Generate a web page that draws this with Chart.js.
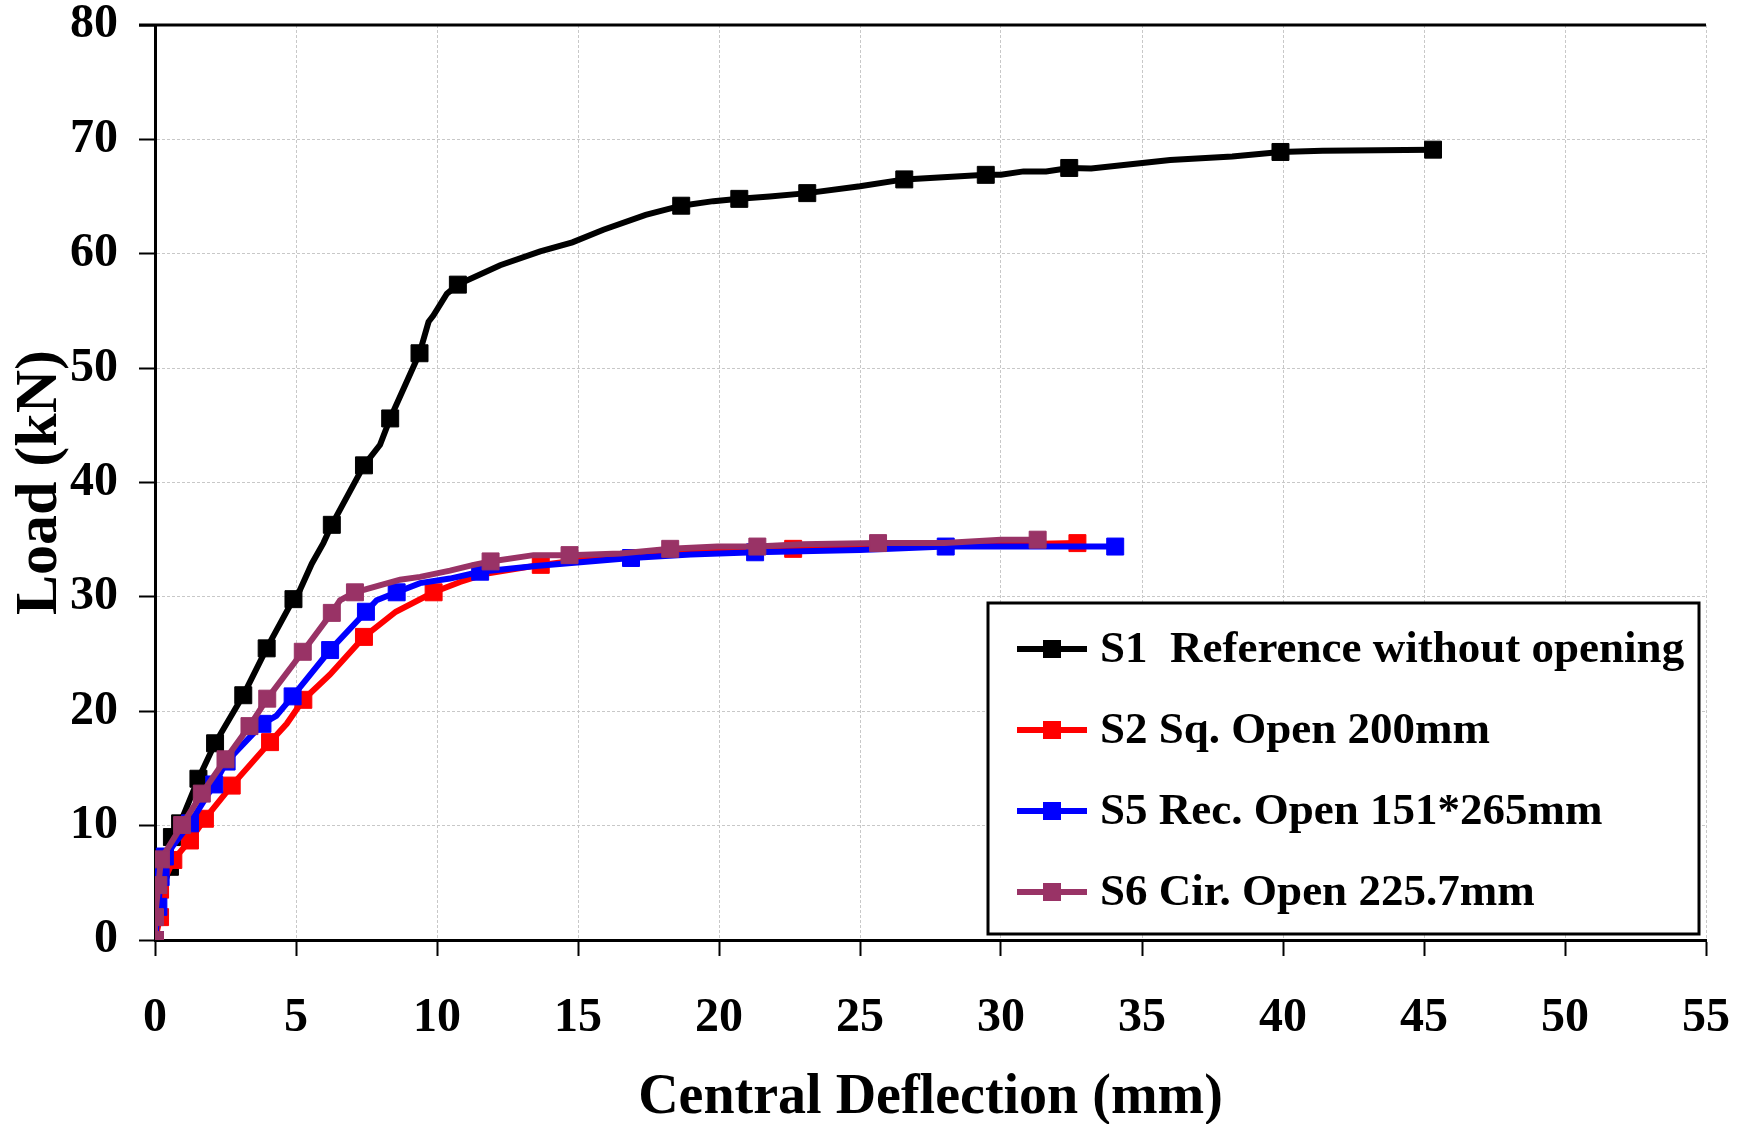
<!DOCTYPE html>
<html>
<head>
<meta charset="utf-8">
<script src="https://cdn.jsdelivr.net/npm/chart.js@4.4.1/dist/chart.umd.min.js"></script>
<style>
  html, body { margin: 0; padding: 0; background: #ffffff; }
  #wrap { position: relative; width: 1748px; height: 1124px; }
  canvas { display: block; }
</style>
</head>
<body>
<div id="wrap"><canvas id="c" width="1748" height="1124"></canvas></div>
<script>
// ---- data ----
const seriesLabels = ["S1  Reference without opening", "S2 Sq. Open 200mm", "S5 Rec. Open 151*265mm", "S6 Cir. Open 225.7mm"];

const s1X = [0, 0.15, 0.35, 0.53, 0.6, 0.89, 1.54, 2.13, 3.13, 3.96, 4.91, 5.14, 5.56, 5.97, 6.27, 7.41, 7.98, 8.34, 9.38, 9.70, 9.87, 10.35, 10.74, 12.24, 13.66, 14.8, 15.9, 17.4, 18.66, 19.8, 20.72, 21.8, 23.13, 25.0, 26.57, 28.1, 29.46, 30.0, 30.8, 31.6, 32.42, 33.2, 36.0, 38.2, 39.91, 41.4, 45.32];
const s1Y = [0, 3.0, 5.0, 6.4, 9.0, 10.2, 14.1, 17.2, 21.4, 25.5, 29.8, 30.6, 32.9, 34.7, 36.3, 41.5, 43.3, 45.6, 51.3, 54.05, 54.6, 56.5, 57.3, 59.0, 60.2, 61.0, 62.1, 63.4, 64.2, 64.6, 64.8, 65.0, 65.3, 65.9, 66.5, 66.7, 66.9, 66.9, 67.2, 67.2, 67.5, 67.45, 68.2, 68.5, 68.9, 69.0, 69.1];
const s1Marks = [0, 3, 4, 5, 6, 7, 8, 9, 10, 14, 15, 17, 18, 22, 28, 30, 32, 34, 36, 40, 44, 46];

const s2X = [0, 0.18, 0.18, 0.65, 1.24, 1.77, 2.72, 3.4, 4.08, 4.67, 5.26, 6.2, 7.41, 8.54, 9.88, 10.82, 11.77, 13.68, 16.0, 19.0, 21.0, 22.63, 25.0, 28.0, 30.5, 32.71];
const s2Y = [0, 2.0, 4.4, 7.0, 8.7, 10.6, 13.5, 15.4, 17.3, 18.9, 21.0, 23.2, 26.5, 28.7, 30.4, 31.3, 32.05, 32.8, 33.5, 33.9, 34.1, 34.2, 34.3, 34.5, 34.6, 34.7];
const s2Marks = [0, 1, 2, 3, 4, 5, 6, 8, 10, 12, 14, 17, 21, 25];

const s5X = [0, 0.12, 0.2, 0.35, 1.24, 2.1, 2.54, 3.81, 4.3, 4.88, 6.21, 7.48, 7.86, 8.57, 9.4, 10.46, 11.53, 13.5, 16.88, 19.0, 21.28, 25.0, 28.04, 31.0, 34.05];
const s5Y = [0, 2.9, 5.5, 7.3, 10.2, 13.6, 15.6, 18.9, 19.6, 21.3, 25.35, 28.7, 29.7, 30.4, 31.2, 31.6, 32.2, 32.7, 33.4, 33.7, 33.9, 34.1, 34.4, 34.4, 34.4];
const s5Marks = [0, 1, 2, 3, 4, 5, 6, 7, 9, 10, 11, 13, 16, 18, 20, 22, 24];

const s6X = [0, 0, 0.12, 0.21, 0.96, 1.66, 2.5, 3.35, 3.98, 5.24, 6.27, 6.56, 7.09, 8.69, 9.4, 10.46, 11.3, 11.9, 13.42, 14.7, 16.5, 18.27, 19.94, 21.36, 22.94, 25.64, 28.0, 30.0, 31.3];
const s6Y = [0, 2.0, 4.8, 7.05, 10.05, 12.8, 15.8, 18.7, 21.1, 25.2, 28.6, 29.7, 30.4, 31.5, 31.75, 32.3, 32.8, 33.1, 33.65, 33.65, 33.8, 34.2, 34.4, 34.4, 34.6, 34.7, 34.7, 35.0, 35.0];
const s6Marks = [0, 1, 2, 3, 4, 5, 6, 7, 8, 9, 10, 12, 17, 19, 21, 23, 25, 28];

const xTitle = "Central Deflection (mm)";
const yTitle = "Load (kN)";

// ---- build ----
function pts(xs, ys) { return xs.map((x, i) => ({ x: x, y: ys[i] })); }
const colors = ["#000000", "#FF0000", "#0000FF", "#993366"];
const allX = [s1X, s2X, s5X, s6X];
const allY = [s1Y, s2Y, s5Y, s6Y];
const allMarks = [s1Marks, s2Marks, s5Marks, s6Marks];
const FONT = "'Liberation Serif', 'Times New Roman', serif";

const datasets = seriesLabels.map((lab, k) => ({
  label: lab,
  data: pts(allX[k], allY[k]),
  showLine: true,
  borderColor: colors[k],
  backgroundColor: colors[k],
  borderWidth: 6,
  tension: 0,
  pointStyle: 'rect',
  pointRadius: (ctx) => allMarks[k].includes(ctx.dataIndex) ? 12 : 0,
  pointHoverRadius: (ctx) => allMarks[k].includes(ctx.dataIndex) ? 12 : 0,
  pointBorderWidth: 1,
  pointBorderColor: colors[k],
  pointBackgroundColor: colors[k],
  order: 4 - k
}));

const topLinePlugin = {
  id: 'topLine',
  beforeDatasetsDraw(chart) {
    const { ctx, chartArea, scales } = chart;
    const y = scales.y.getPixelForValue(80);
    ctx.save();
    ctx.strokeStyle = '#000';
    ctx.lineWidth = 3;
    ctx.beginPath();
    ctx.moveTo(chartArea.left - 16, y);
    ctx.lineTo(chartArea.right, y);
    ctx.stroke();
    ctx.restore();
  }
};

const legendPlugin = {
  id: 'boxLegend',
  afterDatasetsDraw(chart) {
    const { ctx, chartArea } = chart;
    const bx = chartArea.right - 718, by = chartArea.bottom - 337, bw = 711, bh = 331;
    ctx.save();
    ctx.fillStyle = '#fff';
    ctx.fillRect(bx, by, bw, bh);
    ctx.strokeStyle = '#000';
    ctx.lineWidth = 3;
    ctx.strokeRect(bx, by, bw, bh);
    const rows = [46, 127, 208, 289];
    chart.data.datasets.forEach((ds, i) => {
      const cy = by + rows[i];
      ctx.strokeStyle = ds.borderColor;
      ctx.lineWidth = 6;
      ctx.beginPath();
      ctx.moveTo(bx + 29, cy);
      ctx.lineTo(bx + 99, cy);
      ctx.stroke();
      ctx.fillStyle = ds.borderColor;
      ctx.fillRect(bx + 64 - 9, cy - 9, 18, 18);
      ctx.fillStyle = '#000';
      ctx.font = "bold 45px " + FONT;
      ctx.textBaseline = 'middle';
      ctx.textAlign = 'left';
      ctx.fillText(ds.label, bx + 112, cy + 1);
    });
    ctx.restore();
  }
};

new Chart(document.getElementById('c'), {
  type: 'scatter',
  data: { datasets: datasets },
  plugins: [topLinePlugin, legendPlugin],
  options: {
    responsive: false,
    animation: false,
    devicePixelRatio: 1,
    layout: { autoPadding: false, padding: { top: 25, right: 42, bottom: 0, left: 0 } },
    plugins: { legend: { display: false }, tooltip: { enabled: false } },
    scales: {
      x: {
        type: 'linear', min: 0, max: 55,
        afterFit(scale) { scale.height = 184; scale.paddingLeft = 0; scale.paddingRight = 0; },
        ticks: { stepSize: 5, color: '#000', padding: 39, font: { family: FONT, size: 48, weight: 'bold', lineHeight: 1 } },
        grid: { color: '#c8c8c8', lineWidth: 1, tickLength: 16, tickColor: '#000', tickWidth: 2 },
        border: { color: '#000', width: 3, dash: [3, 2] },
        title: { display: true, text: xTitle, color: '#000', font: { family: FONT, size: 56, weight: 'bold', lineHeight: 1 }, padding: { top: 0, bottom: -3 } }
      },
      y: {
        type: 'linear', min: 0, max: 80,
        afterFit(scale) { scale.width = 155; scale.paddingTop = 0; scale.paddingBottom = 0; },
        ticks: { stepSize: 10, color: '#000', padding: 21, font: { family: FONT, size: 48, weight: 'bold', lineHeight: 1 } },
        grid: { color: '#c8c8c8', lineWidth: 1, tickLength: 16, tickColor: '#000', tickWidth: 2 },
        border: { color: '#000', width: 3, dash: [3, 2] },
        title: { display: true, text: yTitle, color: '#000', font: { family: FONT, size: 60, weight: 'bold', lineHeight: 1.2 }, padding: { top: 4, bottom: 0 } }
      }
    }
  }
});
</script>
</body>
</html>
